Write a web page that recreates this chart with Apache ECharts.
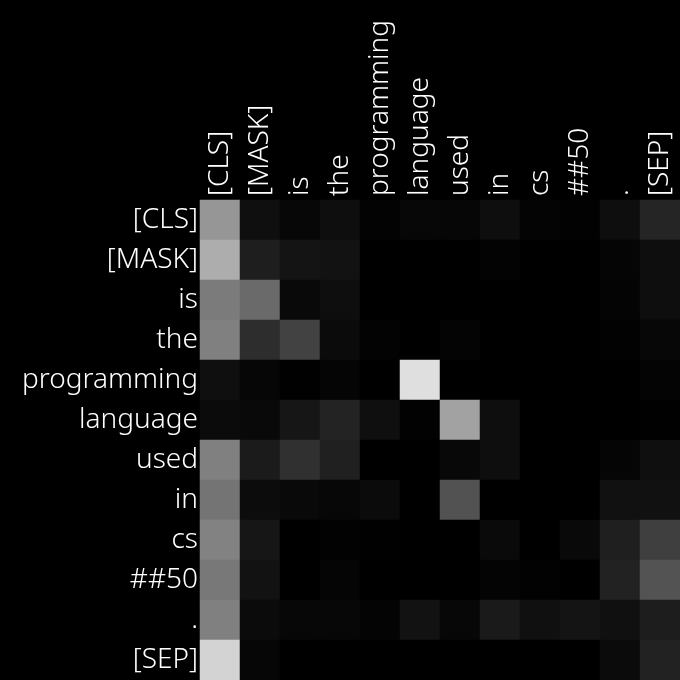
<!DOCTYPE html>
<html><head><meta charset="utf-8">
<script src="https://cdn.jsdelivr.net/npm/echarts@6/dist/echarts.min.js"></script>
<style>html,body{margin:0;padding:0;background:#000;}#c{width:680px;height:680px;}</style>
</head><body><div id="c"></div>
<script>
const tokens = ['[CLS]','[MASK]','is','the','programming','language','used','in','cs','##50','.','[SEP]'];
const row0  = [.588,.059,.027,.055,.012,.027,.024,.055,.016,.008,.055,.145];
const row1  = [.678,.118,.078,.071,0,0,0,.012,0,0,.020,.055];
const row2  = [.482,.416,.035,.055,0,0,0,0,0,0,.016,.055];
const row3  = [.502,.176,.259,.043,.012,0,.016,0,0,0,.008,.027];
const row4  = [.059,.024,.004,.020,0,.875,0,0,0,0,0,.016];
const row5  = [.043,.035,.086,.137,.059,.008,.635,.055,0,0,0,.004];
const row6  = [.502,.106,.188,.125,0,0,.031,.055,0,0,.020,.059];
const row7  = [.455,.047,.035,.027,.043,0,.322,0,0,0,.067,.067];
const row8  = [.510,.086,0,.008,.004,0,0,.039,0,.035,.122,.247];
const row9  = [.471,.071,0,.020,0,0,0,.016,.008,0,.133,.325];
const row10 = [.502,.043,.027,.027,.016,.071,.027,.102,.063,.078,.063,.114];
const row11 = [.827,.024,0,0,0,0,0,0,0,0,.043,.133];
const rows = [row0,row1,row2,row3,row4,row5,row6,row7,row8,row9,row10,row11];

const data = [];
rows.forEach((r, yi) => r.forEach((v, xi) => data.push([xi, yi, v])));

const chart = echarts.init(document.getElementById('c'));
const font = 'Noto Sans';
chart.setOption({
  backgroundColor: '#000000',
  animation: false,
  grid: { left: 200, top: 200, width: 480, height: 480 },
  xAxis: {
    type: 'category', data: tokens, position: 'top',
    axisLine: { show: false }, axisTick: { show: false }, splitLine: { show: false },
    axisLabel: { rotate: -90, color: '#ffffff', fontSize: 28, fontFamily: font, fontWeight: 300, margin: 4, interval: 0 }
  },
  yAxis: {
    type: 'category', data: tokens, inverse: true,
    axisLine: { show: false }, axisTick: { show: false }, splitLine: { show: false },
    axisLabel: { color: '#ffffff', fontSize: 28, fontFamily: font, fontWeight: 300, margin: 2, interval: 0 }
  },
  visualMap: { show: false, min: 0, max: 1, inRange: { color: ['#000000', '#ffffff'] } },
  series: [{
    type: 'heatmap', data: data,
    itemStyle: { borderWidth: 0 },
    emphasis: { disabled: true }
  }]
});
</script></body></html>
